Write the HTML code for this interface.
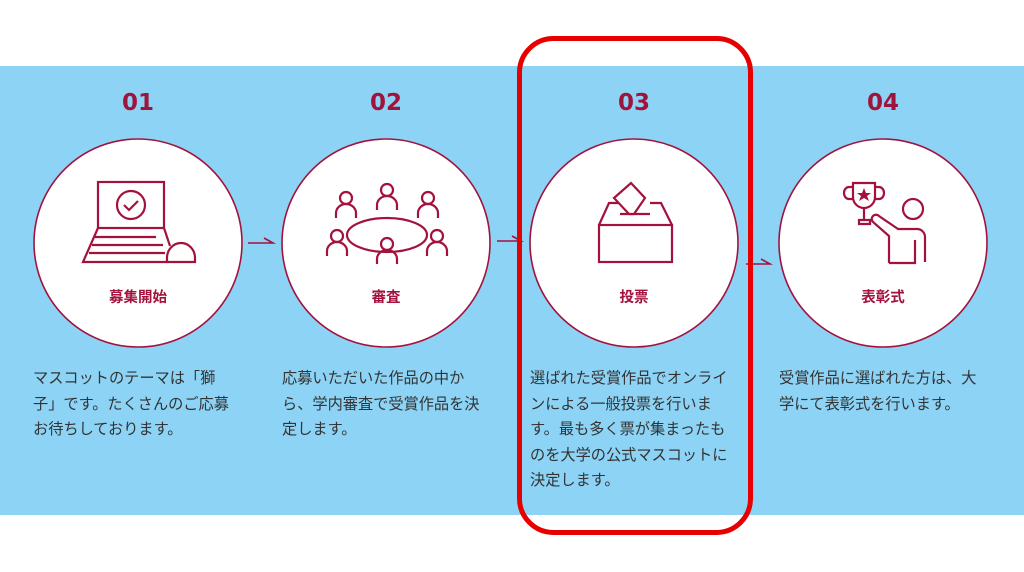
<!DOCTYPE html>
<html><head><meta charset="utf-8"><style>
body{margin:0;width:1024px;height:572px;background:#fff;position:relative;overflow:hidden;font-family:"Liberation Sans","Noto Sans CJK JP",sans-serif}
.band{position:absolute;left:0;top:66px;width:1024px;height:449px;background:#8dd3f5}
.num{position:absolute;top:90px;width:80px;text-align:center;font-size:23px;font-weight:bold;color:#a0143c;font-family:"DejaVu Sans","Noto Sans CJK JP",sans-serif}
.lbl{position:absolute;top:286px;width:120px;text-align:center;font-size:14.5px;font-weight:bold;color:#a3123d}
.txt{position:absolute;top:366px;font-size:15.2px;line-height:25.6px;color:#333;white-space:nowrap}
svg{position:absolute;left:0;top:0}
</style></head><body>
<div class="band"></div>
<svg width="1024" height="572" viewBox="0 0 1024 572">
<defs>
<g id="p"><circle cx="0" cy="0" r="6" fill="none" stroke="#a3123d" stroke-width="2.2"/><path d="M-10,20 v-5 a10,9 0 0 1 20,0 v5" fill="none" stroke="#a3123d" stroke-width="2.2"/></g>
</defs>
<g fill="#fff" stroke="#a3123d" stroke-width="1.6">
<circle cx="138" cy="243" r="104"/><circle cx="386" cy="243" r="104"/><circle cx="634" cy="243" r="104"/><circle cx="883" cy="243" r="104"/>
</g>
<g fill="none" stroke="#a3123d" stroke-width="1.6">
<path d="M248,243 H273 L264,238"/><path d="M497,241 H521 L512,236"/><path d="M746,264 H770 L761,259"/>
</g>
<g fill="none" stroke="#a3123d" stroke-width="2.2">
<rect x="98" y="182" width="66" height="46"/><circle cx="131" cy="205" r="14"/><path d="M124,205 l5,5 l9,-9"/>
<path d="M98,228 L83,262 H166 M164,228 L170,246"/><path d="M95,237 H156 M92,245 H163 M89,253 H165"/>
<path d="M167,262 v-4 a14,15 0 0 1 28,0 v4 z" fill="#fff"/>
<ellipse cx="387" cy="235" rx="40" ry="17"/>
<use href="#p" x="387" y="190"/><use href="#p" x="346" y="198"/><use href="#p" x="428" y="198"/>
<use href="#p" x="337" y="236"/><use href="#p" x="437" y="236"/><use href="#p" x="387" y="244"/>
<rect x="599" y="225" width="73" height="37"/><path d="M599,225 L609,203 H618 M650,203 H661 L672,225"/>
<path d="M620,214 H650"/><path d="M614,198 L631,183 L645,198 L634,214 H629 Z" fill="#fff"/>
<path d="M853,183 H875 V197 a11,11 0 0 1 -22,0 Z"/><path d="M853,187 h-4 a5,6 0 0 0 0,12 h5 M875,187 h4 a5,6 0 0 1 0,12 h-5"/>
<path d="M864,208 V220 M859,224 H870 V220 H859 Z"/>
<polygon points="864,188 866,193 871,193 867,196 869,201 864,198 859,201 861,196 857,193 862,193" fill="#a3123d" stroke="none"/>
<circle cx="913" cy="209" r="10"/>
<path d="M889,263 V236 L873,222 a4,4 0 0 1 6,-6 L898,229 H917 a8,8 0 0 1 8,8 V262 M915,240 V263 H889"/>
</g>
<rect x="519.5" y="38.5" width="231" height="494" rx="34" fill="none" stroke="#e60000" stroke-width="5"/>
</svg>
<div class="num" style="left:98px">01</div><div class="num" style="left:346px">02</div><div class="num" style="left:594px">03</div><div class="num" style="left:843px">04</div>
<div class="lbl" style="left:78px">募集開始</div><div class="lbl" style="left:326px">審査</div><div class="lbl" style="left:574px">投票</div><div class="lbl" style="left:823px">表彰式</div>
<div class="txt" style="left:33px">マスコットのテーマは「獅<br>子」です。たくさんのご応募<br>お待ちしております。</div>
<div class="txt" style="left:282px">応募いただいた作品の中か<br>ら、学内審査で受賞作品を決<br>定します。</div>
<div class="txt" style="left:530px">選ばれた受賞作品でオンライ<br>ンによる一般投票を行いま<br>す。最も多く票が集まったも<br>のを大学の公式マスコットに<br>決定します。</div>
<div class="txt" style="left:779px">受賞作品に選ばれた方は、大<br>学にて表彰式を行います。</div>
</body></html>
